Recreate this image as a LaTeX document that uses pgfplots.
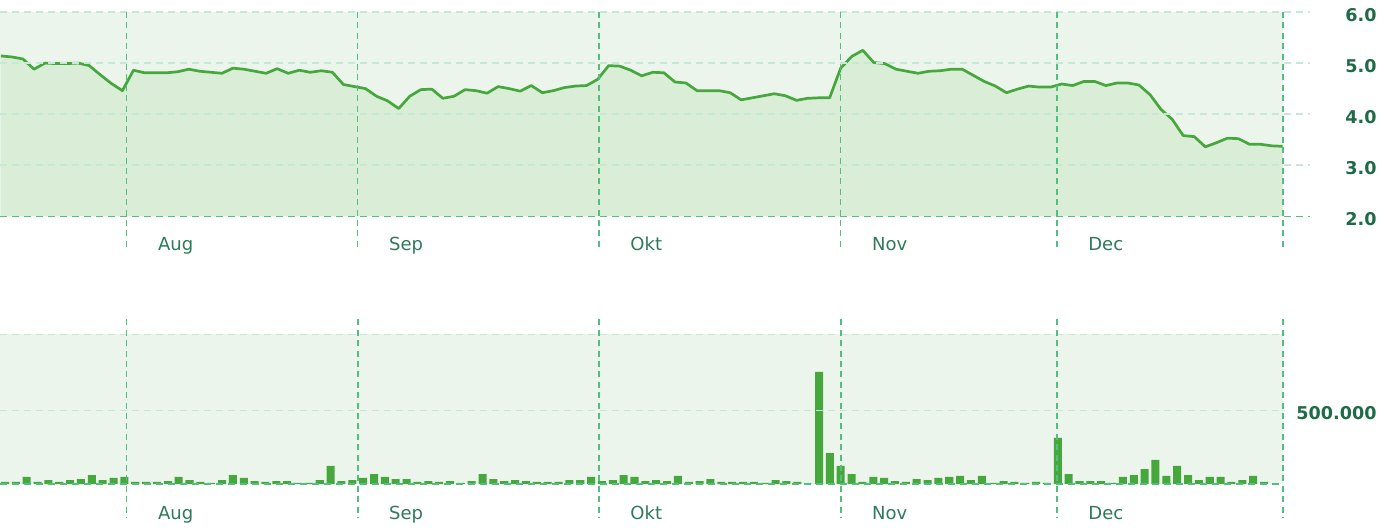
\documentclass[border=0pt]{standalone}
\usepackage{pgfplots}
\pgfplotsset{compat=1.18}
\usepackage{pgfplotstable}
\usepackage{fontspec}
\setmainfont{DejaVu Sans}

\definecolor{linegreen}{HTML}{46A83C}
\definecolor{bgpale}{HTML}{EBF5EC}
\definecolor{areagreen}{HTML}{DAEDD7}
\definecolor{gridpale}{HTML}{C6E9D6}
\definecolor{griddark}{HTML}{52BE80}
\definecolor{ticktext}{HTML}{1F6B47}
\definecolor{monthtext}{HTML}{2E7A5A}

% closing price, one row per trading day
\pgfplotstableread{
k p
0 5.14
1 5.12
2 5.08
3 4.88
4 5.00
5 4.99
6 4.99
7 5.00
8 4.95
9 4.77
10 4.60
11 4.46
12 4.86
13 4.81
14 4.81
15 4.81
16 4.83
17 4.88
18 4.84
19 4.82
20 4.80
21 4.90
22 4.88
23 4.84
24 4.80
25 4.89
26 4.80
27 4.86
28 4.82
29 4.85
30 4.82
31 4.58
32 4.54
33 4.50
34 4.35
35 4.26
36 4.11
37 4.35
38 4.48
39 4.49
40 4.31
41 4.35
42 4.48
43 4.46
44 4.41
45 4.54
46 4.50
47 4.45
48 4.56
49 4.42
50 4.46
51 4.52
52 4.55
53 4.56
54 4.68
55 4.95
56 4.94
57 4.86
58 4.75
59 4.82
60 4.81
61 4.63
62 4.61
63 4.46
64 4.46
65 4.46
66 4.42
67 4.28
68 4.32
69 4.36
70 4.40
71 4.36
72 4.27
73 4.31
74 4.32
75 4.32
76 4.90
77 5.13
78 5.25
79 5.01
80 4.99
81 4.88
82 4.84
83 4.80
84 4.84
85 4.85
86 4.88
87 4.88
88 4.76
89 4.64
90 4.55
91 4.42
92 4.49
93 4.55
94 4.53
95 4.53
96 4.59
97 4.56
98 4.64
99 4.64
100 4.56
101 4.61
102 4.61
103 4.57
104 4.38
105 4.09
106 3.90
107 3.58
108 3.56
109 3.36
110 3.44
111 3.53
112 3.52
113 3.41
114 3.41
115 3.38
116 3.37
}\price

% traded volume
\pgfplotstableread{
k v
0 14000
1 14000
2 48000
3 14000
4 27000
5 14000
6 27000
7 34000
8 61000
9 27000
10 41000
11 48000
12 14000
13 14000
14 14000
15 20000
16 48000
17 27000
18 14000
19 7000
20 27000
21 61000
22 41000
23 20000
24 14000
25 20000
26 20000
27 7000
28 7000
29 27000
30 123000
31 20000
32 27000
33 41000
34 68000
35 48000
36 34000
37 34000
38 14000
39 20000
40 14000
41 20000
42 7000
43 20000
44 68000
45 34000
46 20000
47 27000
48 20000
49 14000
50 14000
51 14000
52 27000
53 27000
54 48000
55 20000
56 27000
57 61000
58 48000
59 20000
60 27000
61 20000
62 55000
63 14000
64 20000
65 34000
66 14000
67 14000
68 14000
69 14000
70 7000
71 27000
72 20000
73 14000
74 3000
75 764000
76 211000
77 123000
78 68000
79 14000
80 48000
81 41000
82 20000
83 14000
84 34000
85 27000
86 41000
87 48000
88 55000
89 27000
90 55000
91 7000
92 20000
93 14000
94 7000
95 14000
96 7000
97 314000
98 68000
99 20000
100 20000
101 20000
102 7000
103 48000
104 61000
105 102000
106 164000
107 55000
108 123000
109 61000
110 27000
111 48000
112 48000
113 14000
114 27000
115 55000
116 14000
}\volume

\tikzset{
  vline/.style={draw=griddark, line width=0.8pt, dash pattern=on 3pt off 2.2pt},
  hpale/.style={draw=gridpale, line width=0.8pt, dash pattern=on 3.5pt off 2.5pt},
  hdark/.style={draw=griddark, line width=0.8pt, dash pattern=on 3.5pt off 2.5pt},
  month/.style={anchor=base west, inner sep=0pt, text=monthtext,
    font=\fontsize{9}{10}\selectfont},
}

\pgfplotsset{
  panel/.style={
    anchor=south west, scale only axis, width=641.5pt,
    axis line style={draw=none}, major tick length=0pt,
    xtick=\empty, yticklabel pos=right,
    clip=true, clip mode=individual,
    axis background/.style={fill=bgpale},
    scaled y ticks=false,
    yticklabel style={anchor=base east, inner sep=0pt, xshift=47pt,
      yshift=-4.6pt, text=ticktext,
      font=\bfseries\fontsize{8.8}{10}\selectfont},
  },
}

\begin{document}
\begin{tikzpicture}
\path[use as bounding box] (0pt,0pt) rectangle (693pt,263.5pt);

% price panel
\begin{axis}[panel, at={(0pt,155.35pt)}, height=102.15pt,
  xmin=-0.08, xmax=116.03, ymin=2, ymax=6,
  ytick={2,3,4,5,6}, yticklabels={2.0,3.0,4.0,5.0,6.0}]
  \addplot[draw=none, fill=areagreen] table[x=k, y=p] {\price} \closedcycle;
  \addplot[linegreen, line width=1.35pt, line join=round] table[x=k, y=p] {\price};
  \pgfplotsinvokeforeach{3,4,5,6}{
    \draw[hpale] (axis cs:-0.08,#1) -- ([xshift=13.5pt]axis cs:116.03,#1);
  }
  \draw[hdark] (axis cs:-0.08,2) -- ([xshift=13.5pt]axis cs:116.03,2);
  \pgfplotsinvokeforeach{11.38,32.29,54.13,76.0,95.57,116.03}{
    \draw[vline] (axis cs:#1,6) -- ([yshift=-17pt]axis cs:#1,2);
  }
  \node[month] at ([xshift=15.5pt, yshift=-17.3pt]axis cs:11.38,2) {Aug};
  \node[month] at ([xshift=15.5pt, yshift=-17.3pt]axis cs:32.29,2) {Sep};
  \node[month] at ([xshift=15.5pt, yshift=-17.3pt]axis cs:54.13,2) {Okt};
  \node[month] at ([xshift=15.5pt, yshift=-17.3pt]axis cs:76.0,2) {Nov};
  \node[month] at ([xshift=15.5pt, yshift=-17.3pt]axis cs:95.57,2) {Dec};
\end{axis}

% volume panel
\begin{axis}[panel, at={(0pt,21.5pt)}, height=74.85pt,
  xmin=-0.46, xmax=117.75, ymin=0, ymax=1021000,
  ybar, bar width=0.74,
  ytick={500000}, yticklabels={500.000}]
  \addplot[fill=linegreen, draw=none] table[x=k, y=v] {\volume};
  \draw[hpale] (axis cs:-0.46,500000) -- ([xshift=1pt]axis cs:117.75,500000);
  \draw[hpale] (axis cs:-0.46,1021000) -- ([xshift=1pt]axis cs:117.75,1021000);
  \draw[hdark] (axis cs:-0.46,0) -- (axis cs:117.75,0);
  \pgfplotsinvokeforeach{11.21,32.50,54.73,77.0,96.93,117.75}{
    \draw[vline] ([yshift=7.5pt]axis cs:#1,1021000) -- ([yshift=-17pt]axis cs:#1,0);
  }
  \node[month] at ([xshift=15.5pt, yshift=-17.6pt]axis cs:11.21,0) {Aug};
  \node[month] at ([xshift=15.5pt, yshift=-17.6pt]axis cs:32.50,0) {Sep};
  \node[month] at ([xshift=15.5pt, yshift=-17.6pt]axis cs:54.73,0) {Okt};
  \node[month] at ([xshift=15.5pt, yshift=-17.6pt]axis cs:77.0,0) {Nov};
  \node[month] at ([xshift=15.5pt, yshift=-17.6pt]axis cs:96.93,0) {Dec};
\end{axis}
\end{tikzpicture}
\end{document}
